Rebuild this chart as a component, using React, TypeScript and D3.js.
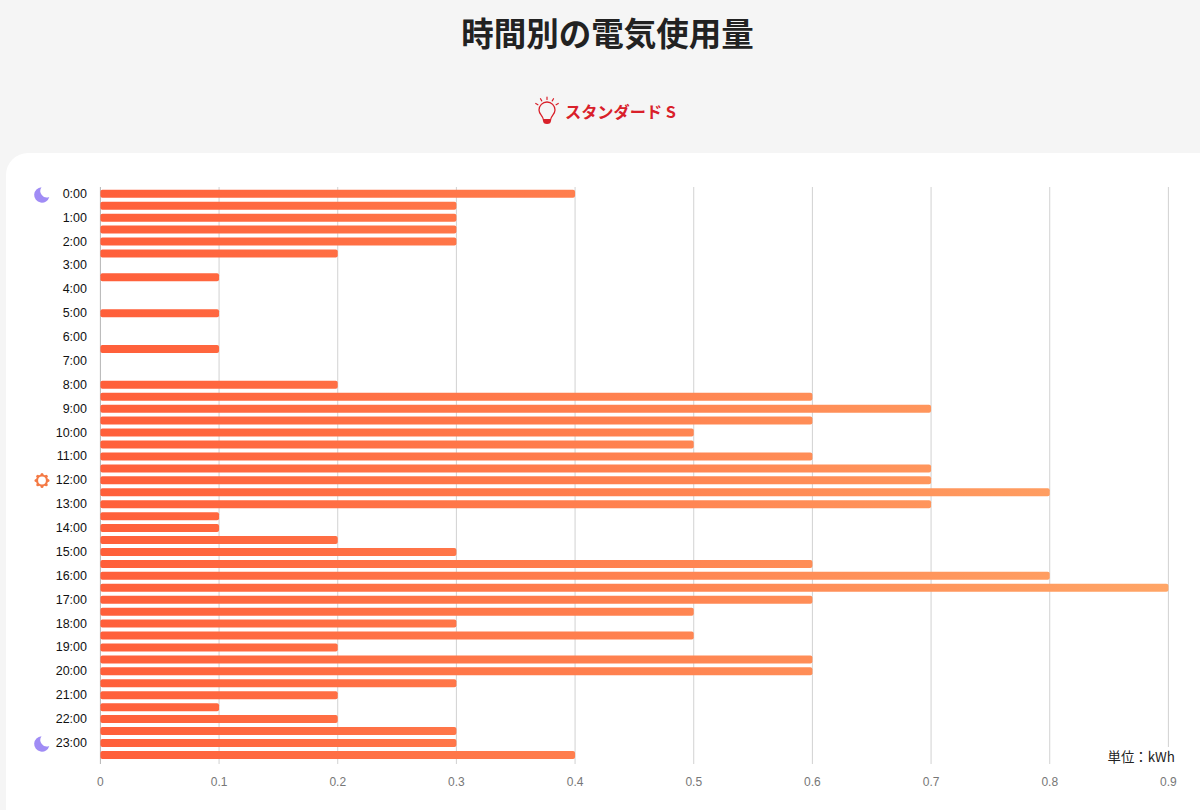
import React from "react";
import * as d3 from "d3";

const hourLabels = ["0:00","1:00","2:00","3:00","4:00","5:00","6:00","7:00","8:00","9:00","10:00","11:00","12:00","13:00","14:00","15:00","16:00","17:00","18:00","19:00","20:00","21:00","22:00","23:00"];
const usage = [0.4,0.3,0.3,0.3,0.3,0.2,0,0.1,0,0,0.1,0,0,0.1,0,0,0.2,0.6,0.7,0.6,0.5,0.5,0.6,0.7,0.7,0.8,0.7,0.1,0.1,0.2,0.3,0.6,0.8,0.9,0.6,0.5,0.3,0.5,0.2,0.6,0.6,0.3,0.2,0.1,0.2,0.3,0.3,0.4];
const xTicks = [0,0.1,0.2,0.3,0.4,0.5,0.6,0.7,0.8,0.9];

const W = 1200, H = 810;
const SANS = "'Liberation Sans', 'Noto Sans CJK JP', sans-serif";
const CJK = "'Noto Sans CJK JP', sans-serif";

function Moon({ cx, cy }: { cx: number; cy: number }) {
  return (
    <path
      transform={`translate(${cx},${cy})`}
      d="M-0.5,-7.7 A7.7,7.7 0 1 0 7.3,2 A6.5,6.5 0 0 1 -0.5,-7.7 Z"
      fill="#a08cf5"
    />
  );
}

function Sun({ cx, cy }: { cx: number; cy: number }) {
  const rays = d3.range(8).map((i) => (i * Math.PI) / 4);
  return (
    <g transform={`translate(${cx},${cy})`}>
      {rays.map((a, i) => (
        <circle key={i} cx={Math.cos(a) * 6} cy={Math.sin(a) * 6} r={1.5} fill="#f47a45" />
      ))}
      <circle r={5} fill="#fff" stroke="#f47a45" strokeWidth={2.2} />
    </g>
  );
}

function Bulb({ cx, cy }: { cx: number; cy: number }) {
  const rays = [-60, -30, 0, 30, 60];
  return (
    <g transform={`translate(${cx},${cy})`} fill="none" stroke="#d9202a" strokeLinecap="round">
      {rays.map((a, i) => {
        const r = (a * Math.PI) / 180;
        return (
          <line key={i} strokeWidth={1.2}
            x1={Math.sin(r) * 10.5} y1={-1 - Math.cos(r) * 10.5}
            x2={Math.sin(r) * 13} y2={-1 - Math.cos(r) * 13} />
        );
      })}
      <path strokeWidth={1.3} d="M-3.5,9 C-4,4.5 -8,3.5 -8,-1 A8,8 0 1 1 8,-1 C8,3.5 4,4.5 3.5,9 Z" />
      <path stroke="none" fill="#d9202a" d="M-4,8 H4 V9.5 A4,3.5 0 0 1 -4,9.5 Z" />
    </g>
  );
}

export default function App() {
  const x = d3.scaleLinear().domain([0, 0.9]).range([100.4, 1168.4]);
  const y = d3.scaleBand<number>().domain(d3.range(usage.length)).range([187.8, 760.9]);
  const barH = 8;
  const gridTop = 187, gridBottom = 764;
  return (
    <svg width={W} height={H} viewBox={`0 0 ${W} ${H}`}
      style={{ position: "fixed", left: 0, top: 0, display: "block" }}>
      <defs>
        <linearGradient id="barGrad" gradientUnits="userSpaceOnUse" x1={x(0)} y1={0} x2={x(0.9)} y2={0}>
          <stop offset="0" stopColor="#ff5f3a" />
          <stop offset="1" stopColor="#ffa566" />
        </linearGradient>
      </defs>
      <rect width={W} height={H} fill="#f5f5f5" />
      <rect x={6} y={153} width={W + 40} height={H + 40} rx={22} fill="#fff" />
      <text x={607.5} y={46} textAnchor="middle" fontFamily={CJK} fontWeight={700} fontSize={32.5} fill="#222">時間別の電気使用量</text>
      <Bulb cx={547} cy={111} />
      <text x={565} y={118} fontFamily={CJK} fontWeight={700} fontSize={16.2} fill="#d9202a">スタンダード S</text>

      {xTicks.map((t) => (
        <g key={t}>
          <line x1={x(t)} x2={x(t)} y1={gridTop} y2={gridBottom} stroke={t === 0 ? "#b5b5b5" : "#d2d2d2"} strokeWidth={1} />
          <text x={x(t)} y={786} textAnchor="middle" fontFamily={SANS} fontSize={12} fill="#777">{t}</text>
        </g>
      ))}

      {usage.map((v, i) =>
        v > 0 ? (
          <rect key={i} x={x(0)} y={y(i)! + y.bandwidth() / 2 - barH / 2}
            width={x(v) - x(0)} height={barH} rx={2} fill="url(#barGrad)" />
        ) : null
      )}

      {hourLabels.map((l, i) => (
        <text key={l} x={87} y={y(i * 2)! + y.bandwidth() / 2 + 4} textAnchor="end"
          fontFamily={SANS} fontSize={12.5} fill="#111">{l}</text>
      ))}

      <Moon cx={42} cy={195} />
      <Sun cx={42} cy={480.5} />
      <Moon cx={42} cy={744} />

      <rect x={1104} y={747} width={74} height={20} fill="#fff" />
      <text x={1175} y={762} textAnchor="end" fontFamily={CJK} fontSize={13.4} fill="#222">単位：kWh</text>
    </svg>
  );
}
